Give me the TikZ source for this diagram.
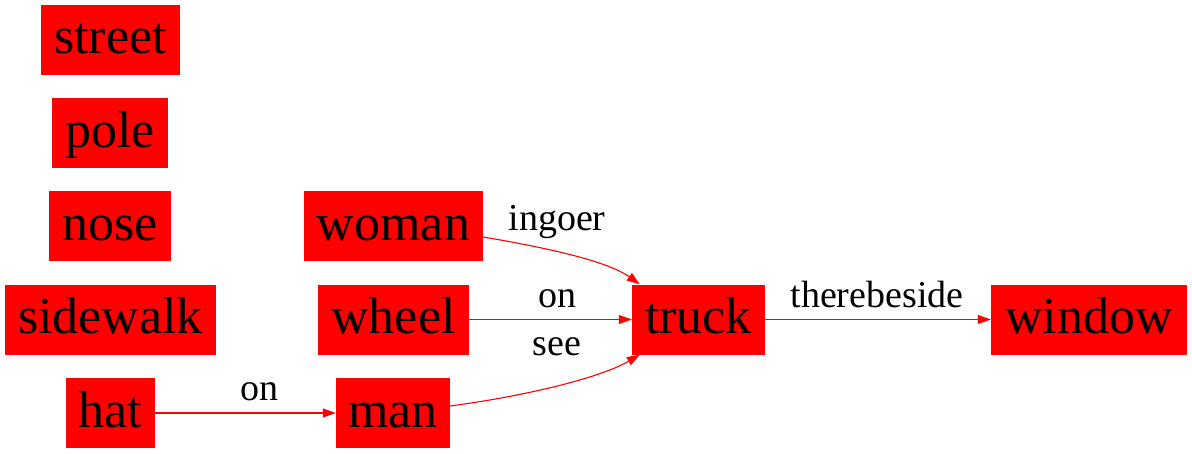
\documentclass[tikz,border=0pt]{standalone}
\usepackage{fontspec}
\setmainfont{Liberation Serif}
\usetikzlibrary{arrows.meta,calc}
\begin{document}
\begin{tikzpicture}[x=1pt,y=-1pt,
  box/.style={fill=red,inner sep=0pt,minimum height=70pt,text height=40pt,text depth=12pt,font=\fontsize{52}{60}\selectfont},
  lbl/.style={inner sep=0pt,text height=30pt,text depth=10pt,font=\fontsize{38}{44}\selectfont},
  conn/.style={draw=red,line width=1.1pt,-{Triangle[length=13pt,width=9pt]}}]
\useasboundingbox (0,0) rectangle (1192,453);
\node[box,minimum width=139pt] (street) at (110.5,39.5) {street};
\node[box,minimum width=116pt] (pole) at (110,133) {pole};
\node[box,minimum width=122pt] (nose) at (110,226) {nose};
\node[box,minimum width=211pt] (sidewalk) at (110.5,319.5) {sidewalk};
\node[box,minimum width=89pt] (hat) at (110.5,413) {hat};
\node[box,minimum width=179pt] (woman) at (393.5,226) {woman};
\node[box,minimum width=151pt] (wheel) at (393.5,319.5) {wheel};
\node[box,minimum width=114pt] (man) at (393,413) {man};
\node[box,minimum width=133pt] (truck) at (698.5,319.5) {truck};
\node[box,minimum width=196pt] (window) at (1089,319.5) {window};
\node[lbl] (l1) at (557,220) {ingoer};
\node[lbl] (l2) at (557,297) {on};
\node[lbl] (l3) at (557,345) {see};
\node[lbl] (l4) at (877,297) {therebeside};
\node[lbl] (l5) at (259,390) {on};
\draw[conn] ($(woman.east)+(0,11)$) .. controls (560,250) and (610,263) .. ($(truck.north west)+(8,0)$);
\draw[conn] (wheel.east) -- (truck.west);
\draw[conn] ($(man.east)+(0,-7)$) .. controls (525,396) and (600,378) .. ($(truck.south west)+(8,0)$);
\draw[conn] (truck.east) -- (window.west);
\draw[conn] (hat.east) -- (man.west);
\end{tikzpicture}
\end{document}
